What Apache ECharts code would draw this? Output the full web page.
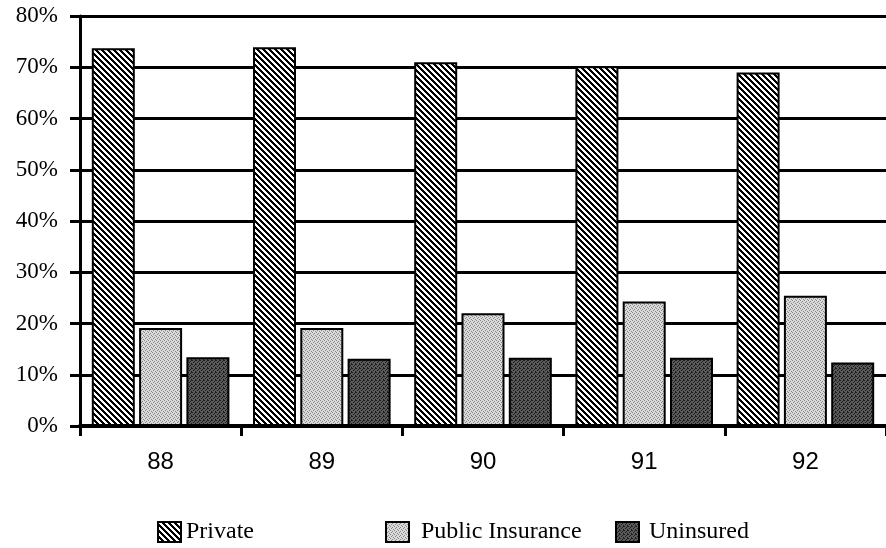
<!DOCTYPE html>
<html>
<head>
<meta charset="utf-8">
<script src="https://cdn.jsdelivr.net/npm/echarts@6/dist/echarts.min.js"></script>
<style>
html,body{margin:0;padding:0;background:#fff;}
#chart{width:886px;height:548px;}
</style>
</head>
<body>
<div id="chart"></div>
<script>
// ---- data ----
var categories = ['88', '89', '90', '91', '92'];
var privateVals = [73.7, 73.9, 71.0, 70.2, 69.0];
var publicVals = [19.1, 19.1, 22.0, 24.3, 25.4];
var uninsuredVals = [13.4, 13.1, 13.3, 13.3, 12.4];
var yTicks = [0, 10, 20, 30, 40, 50, 60, 70, 80];
var seriesNames = ['Private', 'Public Insurance', 'Uninsured'];

// ---- fill patterns ----
function hatch() {
  var n = 6;
  var c = document.createElement('canvas');
  c.width = n; c.height = n;
  var g = c.getContext('2d');
  for (var y = 0; y < n; y++) {
    for (var x = 0; x < n; x++) {
      var m = ((x - y) % n + n) % n;
      g.fillStyle = (m < 3) ? '#fff' : '#000';
      g.fillRect(x, y, 1, 1);
    }
  }
  return c;
}
function stipple(base, dots, dotColor) {
  var c = document.createElement('canvas');
  c.width = 4; c.height = 4;
  var g = c.getContext('2d');
  g.fillStyle = base; g.fillRect(0, 0, 4, 4);
  g.fillStyle = dotColor;
  dots.forEach(function (d) { g.fillRect(d[0], d[1], 1, 1); });
  return c;
}
var hatchPat = { image: hatch(), repeat: 'repeat' };
var lightPat = { image: stipple('#dadada', [[0,0],[2,1],[1,2],[3,3]], '#858585'), repeat: 'repeat' };
var darkPat = { image: stipple('#5a5a5a', [[0,0],[2,1],[1,2],[3,3],[3,0]], '#1e1e1e'), repeat: 'repeat' };

var chart = echarts.init(document.getElementById('chart'), null, { renderer: 'canvas' });

function mkSeries(name, data, fill) {
  return {
    name: name,
    type: 'bar',
    data: data,
    barWidth: 43,
    barGap: '10%',
    itemStyle: { color: fill, borderColor: '#000', borderWidth: 2 },
    emphasis: { disabled: true }
  };
}

function mkLegend(name, left, pad) {
  return {
    data: [name],
    left: left,
    top: 520,
    padding: 0,
    icon: 'rect',
    itemWidth: 23,
    itemHeight: 20,
    selectedMode: false,
    textStyle: { fontFamily: 'Liberation Serif', fontSize: 24, color: '#000', padding: [0, 0, 0, pad] }
  };
}

chart.setOption({
  animation: false,
  backgroundColor: '#fff',
  grid: { left: 80, top: 16, width: 812, bottom: 122, containLabel: false },
  legend: [
    mkLegend(seriesNames[0], 157, 0),
    mkLegend(seriesNames[1], 385, 7),
    mkLegend(seriesNames[2], 615, 5)
  ],
  xAxis: {
    type: 'category',
    data: categories,
    boundaryGap: true,
    axisLine: { show: true, lineStyle: { color: '#000', width: 4 } },
    axisTick: { show: true, length: 10, lineStyle: { color: '#000', width: 3 } },
    axisLabel: { margin: 24, fontFamily: 'Liberation Sans', fontSize: 24, color: '#000' }
  },
  yAxis: {
    type: 'value',
    min: yTicks[0],
    max: yTicks[yTicks.length - 1],
    interval: 10,
    axisLine: { show: true, lineStyle: { color: '#000', width: 3 } },
    axisTick: { show: true, length: 10, lineStyle: { color: '#000', width: 3 } },
    axisLabel: {
      margin: 22,
      fontFamily: 'Liberation Serif',
      fontSize: 23,
      color: '#000',
      formatter: function (v) { return v + '%'; }
    },
    splitLine: { show: true, lineStyle: { color: '#000', width: 3 } }
  },
  series: [
    mkSeries(seriesNames[0], privateVals, hatchPat),
    mkSeries(seriesNames[1], publicVals, lightPat),
    mkSeries(seriesNames[2], uninsuredVals, darkPat)
  ]
});
</script>
</body>
</html>
